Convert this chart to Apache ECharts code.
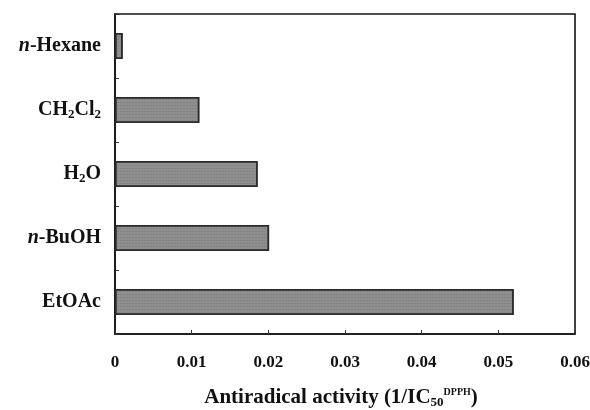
<!DOCTYPE html>
<html>
<head>
<meta charset="utf-8">
<style>
  html, body { margin: 0; padding: 0; background: #fff; }
  #chart { width: 590px; height: 410px; }
</style>
<script src="https://cdn.jsdelivr.net/npm/echarts@6/dist/echarts.min.js"></script>
</head>
<body>
<div id="chart"></div>
<script>
// Solvent fractions, listed bottom to top along the category axis
const categories = ['EtOAc', 'n-BuOH', 'H2O', 'CH2Cl2', 'n-Hexane'];
// Antiradical activity, 1/IC50 (DPPH)
const activity = [0.052, 0.0201, 0.0186, 0.011, 0.001];
// Value axis ticks
const xTicks = [0, 0.01, 0.02, 0.03, 0.04, 0.05, 0.06];

const FONT = '"Liberation Serif", "Times New Roman", serif';

// Rich-text versions of the solvent names (italic n-, subscripted digits)
function richName(name) {
  switch (name) {
    case 'n-Hexane': return '{it|n}-Hexane';
    case 'n-BuOH': return '{it|n}-BuOH';
    case 'H2O': return 'H{sub|2}O';
    case 'CH2Cl2': return 'CH{sub|2}Cl{sub|2}';
    default: return name;
  }
}

const chart = echarts.init(document.getElementById('chart'), null, { renderer: 'canvas' });

chart.setOption({
  animation: false,
  backgroundColor: '#ffffff',
  grid: {
    left: 115, right: 15, top: 14, bottom: 76,
    outerBoundsMode: 'none',
    containLabel: false,
    show: true, borderColor: '#151515', borderWidth: 1.6,
    backgroundColor: 'transparent'
  },
  xAxis: {
    type: 'value',
    min: xTicks[0],
    max: xTicks[xTicks.length - 1],
    interval: 0.01,
    splitLine: { show: false },
    axisLine: { show: true, lineStyle: { color: '#151515', width: 1.6 } },
    axisTick: { show: true, inside: true, length: 4, lineStyle: { color: '#333' } },
    axisLabel: {
      margin: 20,
      fontFamily: FONT, fontWeight: 'bold', fontSize: 17, color: '#111',
      formatter: v => String(Math.round(v * 100) / 100)
    },
    name: 'Antiradical activity (1/IC{sub|50}{sup|DPPH})',
    nameLocation: 'middle',
    nameGap: 53,
    nameTextStyle: {
      fontFamily: FONT, fontWeight: 'bold', fontSize: 21, color: '#111',
      padding: [0, 8, 0, 0],
      rich: {
        sub: { fontFamily: FONT, fontWeight: 'bold', fontSize: 13, color: '#111', verticalAlign: 'bottom', padding: [9, 0, 0, 0] },
        sup: { fontFamily: FONT, fontWeight: 'bold', fontSize: 10, color: '#111', verticalAlign: 'top', padding: [0, 0, 9, 0] }
      }
    }
  },
  yAxis: {
    type: 'category',
    data: categories,
    boundaryGap: true,
    axisLine: { show: true, lineStyle: { color: '#151515', width: 1.6 } },
    axisTick: { show: true, inside: true, length: 4, alignWithLabel: false, lineStyle: { color: '#333' } },
    axisLabel: {
      margin: 14,
      fontFamily: FONT, fontWeight: 'bold', fontSize: 20, color: '#111',
      formatter: richName,
      rich: {
        it: { fontFamily: FONT, fontWeight: 'bold', fontStyle: 'italic', fontSize: 20, color: '#111' },
        sub: { fontFamily: FONT, fontWeight: 'bold', fontSize: 13, color: '#111', verticalAlign: 'bottom', padding: [10, 0, 0, 0] }
      }
    }
  },
  series: [{
    type: 'bar',
    data: activity,
    barWidth: 26,
    itemStyle: {
      color: '#8e8e8e',
      borderColor: '#2a2a2a',
      borderWidth: 1.5,
      decal: {
        symbol: 'rect',
        symbolSize: 0.5,
        color: 'rgba(60,60,60,0.45)',
        dashArrayX: [2, 1],
        dashArrayY: [1, 2],
        rotation: 0
      }
    }
  }]
});
</script>
</body>
</html>
